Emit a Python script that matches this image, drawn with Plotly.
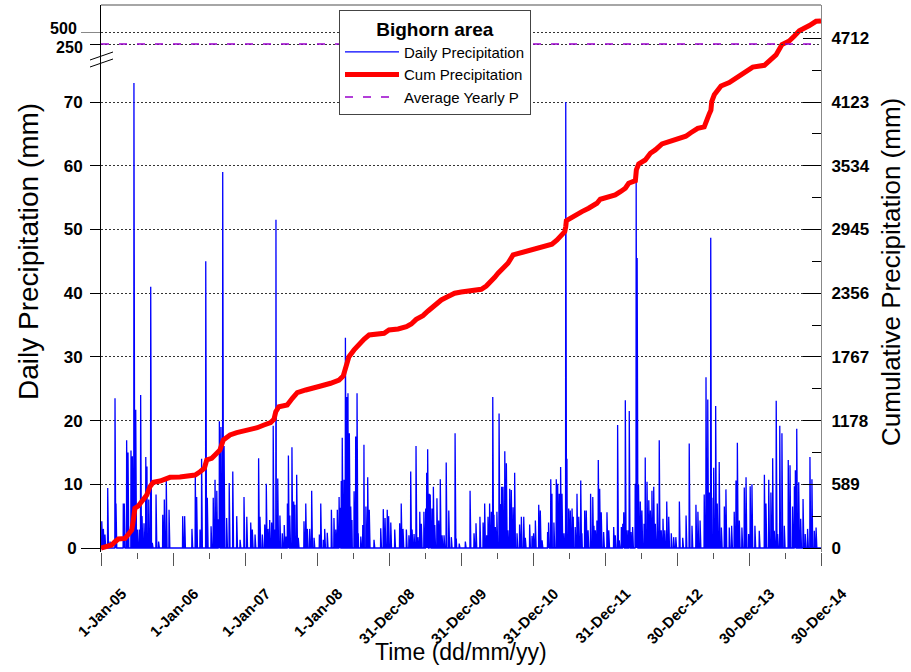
import numpy as np
import pandas as pd
import plotly.graph_objects as go

# ---------------- data ----------------
start_date = "2005-01-01"
end_date = "2014-12-30"

# daily precipitation events: day offset from 1-Jan-05 and depth (mm)
precip_day = [4, 12, 20, 34, 46, 71, 76, 113, 118, 130, 137, 152, 159, 167, 176, 184, 194, 201, 208, 218,
              227, 233, 242, 252, 260, 279, 292, 313, 321, 331, 345, 414, 424, 461, 478, 485, 502, 510, 531, 539,
              558, 569, 578, 587, 595, 600, 608, 617, 624, 637, 650, 668, 688, 705,
              725, 739, 759, 767, 781, 799, 806, 818, 830, 838, 847, 855, 865, 873, 881, 887, 896, 907, 919, 929,
              938, 945, 950, 957, 968, 977, 983, 992, 1000, 1029, 1038, 1046, 1058, 1068, 1080, 1107, 1114, 1127,
              1134, 1147, 1168, 1181, 1190, 1198, 1207, 1212, 1218, 1223, 1232, 1239, 1246, 1252, 1259, 1266, 1272,
              1283, 1291, 1298, 1304, 1317, 1327, 1333, 1343, 1352, 1360, 1384, 1418, 1431, 1440, 1451,
              1458, 1469, 1489, 1514, 1522, 1531, 1548, 1561, 1570, 1577, 1587, 1597, 1607, 1616, 1624, 1637, 1646,
              1651, 1656, 1664, 1669, 1678, 1685, 1692, 1703, 1712, 1720, 1729, 1739, 1750, 1763, 1776, 1795, 1801,
              1816, 1847, 1871, 1891, 1901, 1921, 1937, 1945, 1955, 1962, 1970, 1979, 1986, 1992, 1999, 2007, 2018,
              2024, 2031, 2038, 2047, 2055, 2063, 2072, 2080, 2089, 2097, 2109, 2122, 2131, 2143, 2151, 2173, 2185,
              2193, 2202, 2219, 2227, 2236, 2264, 2269, 2280, 2286, 2296, 2308, 2315, 2323, 2330, 2337, 2347, 2356,
              2362, 2371, 2379, 2388, 2394, 2404, 2413, 2422, 2432, 2438, 2452, 2460, 2469, 2482, 2493, 2499, 2506,
              2514, 2521, 2528, 2536, 2548, 2565, 2574, 2599, 2607, 2619, 2627, 2638, 2645, 2650, 2658, 2667, 2675,
              2678, 2687, 2695, 2708, 2713, 2718, 2725, 2734, 2742, 2753, 2759, 2768, 2777, 2785, 2793, 2802, 2810,
              2820, 2830, 2840, 2849, 2858, 2868, 2878, 2891, 2903, 2914,
              2932, 2949, 2966, 2982, 2996, 3016, 3026, 3037, 3058, 3067, 3076, 3084, 3091, 3097, 3106, 3116, 3124,
              3134, 3145, 3160, 3168, 3185, 3197, 3210, 3219, 3226, 3236, 3249, 3261, 3270, 3283, 3291, 3300, 3315,
              3337, 3363, 3371, 3385, 3396, 3405, 3413, 3423, 3430, 3441, 3452, 3464, 3484, 3493, 3506, 3515, 3520,
              3527, 3537, 3547, 3559, 3570, 3582, 3594, 3604, 3616, 3625]
precip_mm = [4.2, 3.0, 2.1, 9.4, 1.0, 23.5, 7.0, 7.0, 7.0, 16.9, 15.0, 15.3, 14.4, 73.0, 21.7, 2.9, 2.9, 24.0, 5.0, 3.9,
             14.3, 12.8, 7.6, 41.0, 0.8, 8.4, 1.0, 5.2, 7.6, 10.7, 6.0, 5.0, 5.0, 3.0, 11.3, 8.0, 2.9, 14.0, 45.0, 7.9,
             3.4, 7.9, 10.7, 9.0, 4.5, 19.9, 19.0, 59.0, 16.0, 4.7, 10.2, 12.0, 5.0, 1.3,
             8.0, 4.9, 4.0, 2.9, 2.1, 14.1, 4.9, 2.1, 3.7, 10.1, 3.0, 4.4, 4.0, 19.2, 2.9, 51.5, 10.9, 5.1, 2.3, 3.6,
             1.8, 7.0, 14.5, 5.1, 15.8, 7.3, 6.8, 11.5, 1.6, 4.2, 7.0, 3.0, 3.0, 9.0, 1.6, 2.1, 7.0, 1.3,
             3.0, 2.4, 6.0, 4.7, 2.9, 6.0, 8.0, 6.3, 10.5, 17.3, 10.7, 33.0, 23.7, 24.3, 18.0, 6.5, 4.4,
             8.9, 17.5, 24.3, 2.3, 1.8, 3.6, 16.2, 6.5, 11.1, 6.0, 1.3, 3.1, 6.1, 4.7, 6.0,
             5.0, 4.0, 2.9, 3.9, 7.0, 3.0, 2.9, 2.0, 12.0, 2.9, 2.2, 16.0, 1.7, 5.7, 3.8, 5.7, 6.2,
             11.8, 15.5, 8.5, 8.4, 6.2, 9.6, 3.6, 7.8, 4.3, 10.8, 2.0, 2.0, 13.4, 5.9, 1.7, 18.0, 1.5,
             0.7, 1.0, 9.0, 2.3, 3.9, 4.9, 4.0, 7.0, 2.0, 4.9, 7.0, 5.7, 23.7, 5.2, 3.3, 5.7, 21.1,
             6.9, 9.6, 9.6, 15.2, 13.3, 2.8, 9.3, 9.1, 6.4, 11.8, 2.3, 3.7, 4.9, 4.9, 1.6, 3.7, 1.9,
             2.3, 4.3, 6.8, 5.9, 1.2, 2.5, 4.0, 10.8, 8.5, 4.0, 10.8, 10.1, 8.5, 12.7, 8.5, 2.3, 70.0,
             14.0, 6.2, 5.9, 6.2, 4.9, 3.3, 8.5, 4.9, 10.6, 2.3, 5.9, 5.9, 2.8, 8.5, 8.0, 3.5, 2.8,
             4.3, 13.8, 9.3, 5.6, 2.5, 5.6, 2.8, 3.3, 2.0, 19.3, 1.2, 3.3, 3.8, 5.6, 23.2, 2.8, 2.8,
             21.5, 2.5, 3.3, 10.1, 58.0, 45.5, 9.9, 7.3, 5.9, 3.8, 14.2, 10.4, 7.5, 5.9, 9.0, 9.6, 3.8,
             7.0, 16.9, 2.8, 4.6, 2.8, 7.3, 4.9, 2.3, 1.7, 1.7,
             7.3, 1.6, 5.1, 16.4, 3.5, 6.8, 5.7, 4.3, 8.4, 26.8, 23.3, 8.7, 48.7, 7.9, 12.6, 22.3, 7.0,
             13.5, 3.2, 6.5, 9.2, 3.2, 3.5, 5.7, 10.6, 16.5, 4.3, 3.2, 9.5, 11.1, 2.2, 9.7, 10.0, 3.5,
             2.7, 11.5, 7.0, 10.7, 8.7, 14.1, 2.7, 23.1, 2.2, 19.2, 18.0, 3.5, 13.8, 13.0, 6.5, 9.7, 12.2,
             18.7, 10.3, 4.6, 7.7, 2.2, 3.0, 14.3, 10.8, 2.7, 3.2]

# cumulative precipitation (mm) at day offsets
cum_day = [0, 20, 54, 71, 88, 122, 138, 156, 164, 172, 189, 206, 232, 248, 265, 299, 324, 350, 400, 434,
           477, 502, 524, 536, 561, 578, 603, 620, 654, 688, 725, 759, 792, 826, 860, 877, 886, 902, 944, 970,
           995, 1038, 1071, 1114, 1164, 1207, 1228, 1241, 1257, 1283, 1308, 1333, 1359, 1401, 1435, 1460, 1506,
           1548, 1573, 1598, 1632, 1658, 1692, 1725, 1759, 1793, 1826, 1877, 1928, 1953, 1979, 1996, 2013, 2038,
           2063, 2089, 2131, 2185, 2219, 2252, 2286, 2312, 2337, 2351, 2356, 2359, 2379, 2404, 2438, 2472, 2514,
           2531, 2574, 2607, 2633, 2658, 2675, 2709, 2714, 2726, 2759, 2785, 2810, 2844, 2884, 2914, 2965, 2990,
           3025, 3058, 3070, 3084, 3092, 3096, 3109, 3126, 3143, 3185, 3228, 3261, 3304, 3363, 3380, 3422, 3452,
           3489, 3515, 3540, 3591, 3625, 3650]
cum_mm = [0, 12, 28, 58, 83, 89, 135, 166, 259, 367, 388, 428, 490, 567, 607, 619, 638, 653, 656, 669,
          675, 705, 737, 814, 829, 860, 906, 999, 1045, 1066, 1083, 1091, 1112, 1137, 1159, 1190, 1260, 1306, 1322, 1384,
          1436, 1461, 1482, 1498, 1523, 1553, 1590, 1676, 1769, 1831, 1886, 1930, 1969, 1976, 1985, 2016, 2025,
          2046, 2071, 2114, 2148, 2191, 2247, 2293, 2324, 2355, 2367, 2376, 2392, 2422, 2462, 2503, 2540, 2586,
          2632, 2709, 2731, 2755, 2771, 2792, 2808, 2848, 2894, 2925, 2971, 3026, 3048, 3079, 3110, 3141, 3187,
          3224, 3248, 3264, 3294, 3326, 3372, 3396, 3495, 3551, 3587, 3649, 3680, 3735, 3760, 3774, 3807, 3839,
          3880, 3893, 3967, 4015, 4047, 4127, 4190, 4229, 4271, 4302, 4350, 4398, 4446, 4462, 4494, 4558, 4654,
          4687, 4734, 4782, 4830, 4869, 4873]

avg_yearly_p = 250

tick_dates = ["2005-01-01", "2006-01-01", "2007-01-01", "2008-01-01", "2008-12-31", "2009-12-31",
              "2010-12-31", "2011-12-31", "2012-12-30", "2013-12-30", "2014-12-30"]
tick_labels = ["1-Jan-05", "1-Jan-06", "1-Jan-07", "1-Jan-08", "31-Dec-08", "31-Dec-09",
               "31-Dec-10", "31-Dec-11", "30-Dec-12", "30-Dec-13", "30-Dec-14"]

left_ticks = [10, 20, 30, 40, 50, 60, 70]
left_ticks_long = [0]
upper_ticks = [250]
upper_ticks_long = [500]
right_ticks = [0, 589, 1178, 1767, 2356, 2945, 3534, 4123, 4712]

# ---------------- build ----------------
t0 = pd.Timestamp(start_date)
t1 = pd.Timestamp(end_date)
all_days = pd.date_range(start_date, end_date, freq="D")
daily = np.zeros(len(all_days))
daily[np.array(precip_day)] = np.array(precip_mm)
cum_dates = t0 + pd.to_timedelta(cum_day, unit="D")

tick_ts = pd.to_datetime(tick_dates)
minor_ticks = [tick_ts[i] + (tick_ts[i + 1] - tick_ts[i]) / 2 for i in range(len(tick_ts) - 1)]
right_minor = [(right_ticks[i] + right_ticks[i + 1]) / 2 for i in range(len(right_ticks) - 1)]

FONT = "Liberation Sans, Arial, sans-serif"
GRID = "#333333"

fig = go.Figure()
fig.add_trace(go.Scatter(x=all_days, y=daily, mode="lines", name="Daily Precipitation",
                         line=dict(color="#0000FF", width=1.3), legendgroup="a"))
fig.add_trace(go.Scatter(x=cum_dates, y=cum_mm, mode="lines", name="Cum Precipitation",
                         line=dict(color="#FF0000", width=5), yaxis="y2", legendgroup="b"))
fig.add_trace(go.Scatter(x=[t0, t1], y=[avg_yearly_p, avg_yearly_p], mode="lines",
                         name="Average Yearly P", line=dict(color="#9900CC", width=1.5, dash="8px,10px"),
                         yaxis="y3", legendgroup="c"))
# empty helper traces so the extra tick axes get drawn
for ax in ("y4", "y5"):
    fig.add_trace(go.Scatter(x=[t0], y=[None], mode="lines", yaxis=ax, showlegend=False,
                             hoverinfo="skip"))

L, R, T, B = 101, 90, 5, 120
W, H = 911, 672
pw, ph = W - L - R, H - T - B


def px_x(x):
    return (x - L) / pw


def px_y(y):
    return (H - B - y) / ph


ypx = 446 / 70.0           # px per mm (left)
y_lo = -(H - B - 548) / ypx
y_hi = (548 - T) / ypx
r_px = 446 / 70.0 / 58.9   # px per cumulative mm
r_lo = -(H - B - 548) / r_px
r_hi = (548 - T) / r_px
u_per_px = 250 / 12.0      # upper broken axis
u_lo = 250 - (60 - 44) * u_per_px
u_hi = 500 + (32 - T) * u_per_px

tickfont = dict(family=FONT, size=17, color="black", weight="bold")
upfont = dict(family=FONT, size=16, color="black", weight="bold")

fig.update_layout(
    width=W, height=H, margin=dict(l=L, r=R, t=T, b=B),
    paper_bgcolor="white", plot_bgcolor="rgba(0,0,0,0)",
    font=dict(family=FONT, color="black"),
    legend=dict(x=px_x(339), y=px_y(10), xanchor="left", yanchor="top",
                bgcolor="white", bordercolor="#444444", borderwidth=1,
                font=dict(family=FONT, size=15), tracegroupgap=0, traceorder="grouped",
                itemwidth=54,
                title=dict(text="Bighorn area", side="top center",
                           font=dict(family=FONT, size=19, weight="bold"))),
    xaxis=dict(type="date", range=[t0, t1], tickmode="array",
               tickvals=tick_ts, ticktext=tick_labels, tickangle=-45,
               ticks="outside", ticklen=13, tickcolor="#555555", tickwidth=1,
               tickfont=dict(family=FONT, size=15, color="black", weight="bold"),
               ticklabelshift=21, ticklabelstandoff=13,
               showgrid=False, showline=False, zeroline=False,
               minor=dict(tickmode="array", tickvals=minor_ticks, ticks="outside", ticklen=6,
                          tickcolor="#555555", showgrid=False)),
    yaxis=dict(domain=[0, 1], range=[y_lo, y_hi], tickmode="array", tickvals=left_ticks,
               ticks="outside", ticklen=10, tickcolor="black", tickfont=tickfont,
               ticklabelstandoff=4,
               showline=True, linecolor="black", linewidth=1, zeroline=False,
               showgrid=True, gridcolor=GRID, griddash="2px,2px", gridwidth=1),
    yaxis2=dict(overlaying="y", side="right", range=[r_lo, r_hi], tickmode="array", tickvals=right_ticks,
                ticks="inside", ticklen=18, tickcolor="black", tickfont=tickfont, ticklabelstandoff=6,
                showline=True, linecolor="#888888", linewidth=1, zeroline=False, showgrid=False,
                minor=dict(tickmode="array", tickvals=right_minor, ticks="inside", ticklen=9,
                           tickcolor="black", showgrid=False)),
    yaxis3=dict(domain=[px_y(60), 1], anchor="x", range=[u_lo, u_hi], tickmode="array",
                tickvals=upper_ticks, tickfont=upfont, ticklabelshift=3,
                ticks="outside", ticklen=10, tickcolor="black", ticklabelstandoff=4,
                showline=False, zeroline=False,
                showgrid=True, gridcolor=GRID, griddash="2px,2px", gridwidth=1),
    yaxis4=dict(overlaying="y3", side="left", range=[u_lo, u_hi], tickmode="array",
                tickvals=upper_ticks_long, tickfont=upfont, ticklabelshift=-4,
                ticks="outside", ticklen=19, tickcolor="#888888", ticklabelstandoff=1,
                showline=False, zeroline=False,
                showgrid=True, gridcolor=GRID, griddash="2px,2px", gridwidth=1),
    yaxis5=dict(overlaying="y", side="left", range=[y_lo, y_hi], tickmode="array",
                tickvals=left_ticks_long, tickfont=tickfont,
                ticks="outside", ticklen=19, tickcolor="black", ticklabelstandoff=1,
                showline=False, zeroline=False, showgrid=False),
)

# frame top line and axis break marks
fig.add_shape(type="line", xref="paper", yref="paper", x0=0, x1=1, y0=1, y1=1,
              line=dict(color="#888888", width=1.5))
for dy in (0, 7):
    fig.add_shape(type="line", xref="paper", yref="paper",
                  x0=px_x(90), y0=px_y(60 + dy), x1=px_x(113), y1=px_y(52 + dy),
                  line=dict(color="black", width=1))

fig.add_annotation(text="Time (dd/mm/yy)", xref="paper", yref="paper", x=px_x(461), y=px_y(652),
                   xanchor="center", yanchor="middle", showarrow=False,
                   font=dict(family=FONT, size=23, color="black"))
fig.add_annotation(text="Daily Precipitation (mm)", xref="paper", yref="paper", x=px_x(28), y=px_y(252),
                   xanchor="center", yanchor="middle", showarrow=False, textangle=-90,
                   font=dict(family=FONT, size=28, color="black"))
fig.add_annotation(text="Cumulative Precipitation (mm)", xref="paper", yref="paper", x=px_x(891), y=px_y(272),
                   xanchor="center", yanchor="middle", showarrow=False, textangle=-90,
                   font=dict(family=FONT, size=26, color="black"))

fig.write_html("out.html")
